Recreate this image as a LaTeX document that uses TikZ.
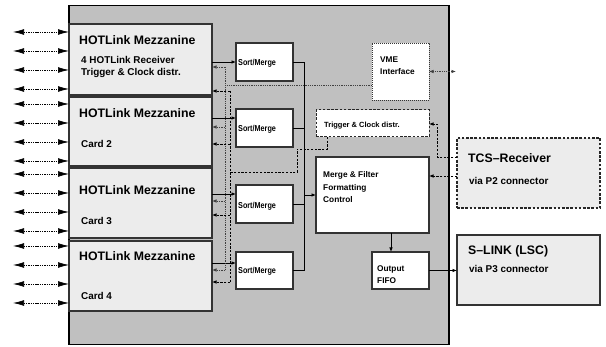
\documentclass[tikz,border=0pt]{standalone}
\usepackage{fontspec}
\setmainfont{Liberation Sans}
\newfontfamily\narrowsans{Liberation Sans}[FakeStretch=0.84]
\usetikzlibrary{arrows.meta,calc}
\definecolor{mainbg}{HTML}{C0C0C0}
\definecolor{cardbg}{HTML}{ECECEC}
\definecolor{edge}{HTML}{333333}
\begin{document}
\begin{tikzpicture}[x=1pt,y=-1pt,
  anybox/.style={inner sep=0pt, outer sep=0pt, anchor=north west},
  mainbox/.style={anybox, draw=black, line width=1.3pt, fill=mainbg},
  cardbox/.style={anybox, draw=edge, line width=1.1pt, fill=cardbg},
  wbox/.style={anybox, draw=edge, line width=1.1pt, fill=white},
  dotbox/.style={anybox, draw=black!80, line width=0.9pt, dash pattern=on 0.9pt off 1.1pt, fill=white},
  dashbox/.style={anybox, draw=black!85, line width=1pt, dash pattern=on 2.6pt off 1.6pt},
  lbl/.style={anchor=west, inner sep=0pt, text height=0.72em, text depth=0pt, font=\bfseries},
  ttl/.style={lbl, font=\fontsize{12.3}{14}\selectfont\bfseries},
  sub/.style={lbl, font=\fontsize{9.9}{12}\selectfont\bfseries},
  mid/.style={lbl, font=\fontsize{8.3}{10}\selectfont\bfseries},
  sml/.style={lbl, font=\fontsize{8.6}{10}\selectfont\narrowsans\bfseries},
  trg/.style={lbl, font=\fontsize{7.5}{9}\selectfont\bfseries},
  conn/.style={line width=0.8pt, black},
  arr/.style={-{Latex[length=4.5pt,width=3.6pt]}},
  vdot/.style={line width=0.8pt, black!75, dash pattern=on 0.8pt off 1pt},
  tdash/.style={line width=0.8pt, black, dash pattern=on 2.2pt off 1.5pt},
  extarr/.style={line width=0.7pt, black, dash pattern=on 1.4pt off 0.9pt,
     {Latex[length=11pt,width=5.8pt]}-{Latex[length=11pt,width=5.8pt]}},
  dblarr/.style={{Latex[length=4.5pt,width=3.6pt]}-{Latex[length=4.5pt,width=3.6pt]}}
]
\useasboundingbox (0,0) rectangle (606,347);

% main board
\node[mainbox, minimum width=380pt, minimum height=339pt] (main) at (69,5.5) {};

% mezzanine cards
\node[cardbox, minimum width=143pt, minimum height=71pt] (c1) at (69,24) {};
\node[cardbox, minimum width=143pt, minimum height=69pt] (c2) at (69,97) {};
\node[cardbox, minimum width=143pt, minimum height=70pt] (c3) at (69,168) {};
\node[cardbox, minimum width=143pt, minimum height=70pt] (c4) at (69,241) {};

% sort/merge boxes
\node[wbox, minimum width=57pt, minimum height=38pt] (s1) at (236,43) {};
\node[wbox, minimum width=57pt, minimum height=38pt] (s2) at (236,109) {};
\node[wbox, minimum width=57pt, minimum height=38pt] (s3) at (236,185) {};
\node[wbox, minimum width=57pt, minimum height=37pt] (s4) at (236,252) {};

% other internal boxes
\node[wbox, minimum width=113pt, minimum height=76pt] (merge) at (316,157) {};
\node[wbox, minimum width=57pt, minimum height=37pt] (fifo) at (372,252) {};
\node[dotbox, minimum width=57pt, minimum height=57pt] (vme) at (372,43) {};
\node[dashbox, fill=white, minimum width=113pt, minimum height=27pt] (trig) at (316,110) {};

% external boxes
\node[dashbox, fill=cardbg, line width=1.1pt, minimum width=143pt, minimum height=70pt] (tcs) at (457,138) {};
\node[cardbox, minimum width=143pt, minimum height=70pt] (slink) at (457,235) {};

% texts
\node[ttl] (t1) at (79,41) {HOTLink Mezzanine};
\node[sub] (t1a) at (81,60) {4 HOTLink Receiver};
\node[sub] (t1b) at (81,72) {Trigger \& Clock distr.};
\node[ttl] (t2) at (79,114) {HOTLink Mezzanine};
\node[sub] (t2a) at (81,144) {Card 2};
\node[ttl] (t3) at (79,191) {HOTLink Mezzanine};
\node[sub] (t3a) at (81,221) {Card 3};
\node[ttl] (t4) at (79,257) {HOTLink Mezzanine};
\node[sub] (t4a) at (81,296) {Card 4};

\node[sml] (st1) at (238,62) {Sort/Merge};
\node[sml] (st2) at (238,128) {Sort/Merge};
\node[sml] (st3) at (238,205) {Sort/Merge};
\node[sml] (st4) at (238,270) {Sort/Merge};

\node[mid] (vt1) at (380,59) {VME};
\node[mid] (vt2) at (380,71) {Interface};
\node[trg] (tt) at (324,123.5) {Trigger \& Clock distr.};
\node[mid] (mt1) at (323,174) {Merge \& Filter};
\node[mid] (mt2) at (323,187) {Formatting};
\node[mid] (mt3) at (323,199) {Control};
\node[mid] (ft1) at (377,268) {Output};
\node[mid] (ft2) at (377,280) {FIFO};

\node[ttl] (tcst) at (468,159) {TCS--Receiver};
\node[sub] (tcsv) at (469,181) {via P2 connector};
\node[ttl] (slt) at (468,251) {S--LINK (LSC)};
\node[sub] (slv) at (469,269) {via P3 connector};

% external left links
\foreach \yy [count=\i] in {32,51,70,89,104,123,142,161,174,193,212,231,246,265,284,303}{
  \coordinate (ext\i) at (13,\yy);
  \draw[extarr] (ext\i) -- (ext\i -| main.west);
}

% card -> sort/merge
\coordinate (in1) at (s1.west);
\coordinate (in2) at ($(s2.west)+(0,-10)$);
\coordinate (in3) at ($(s3.west)+(0,-10)$);
\coordinate (in4) at ($(s4.west)+(0,-7.5)$);
\draw[conn,arr] (c1.east |- in1) -- (in1);
\draw[conn,arr] (c2.east |- in2) -- (in2);
\draw[conn,arr] (c3.east |- in3) -- (in3);
\draw[conn,arr] (c4.east |- in4) -- (in4);

% sort/merge bus
\coordinate (busx) at (304,0);
\draw[conn] (s1.east) -- (s1.east -| busx) -- (s4.east -| busx) -- (s4.east);
\draw[conn] (s2.east) -- (s2.east -| busx);
\draw[conn] (s3.east) -- (s3.east -| busx);
\draw[conn,arr] (merge.west -| busx) -- (merge.west);

% merge -> fifo -> slink
\coordinate (mf) at ($(fifo.north west)+(19,0)$);
\draw[conn,arr] (merge.south -| mf) -- (mf);
\draw[conn,arr] (fifo.east) -- (fifo.east -| slink.west);

% VME dotted distribution
\coordinate (dotx) at (225,0);
\coordinate (vmeo) at ($(vme.west)+(0,13.5)$);
\coordinate (d1) at (212,67);
\coordinate (d2) at (212,127);
\coordinate (d3) at (212,201);
\coordinate (d4) at (212,270);
\draw[vdot] (vmeo) -- (vmeo -| dotx);
\draw[vdot] (d1 -| dotx) -- (d4 -| dotx);
\foreach \k in {1,2,3,4}{ \draw[vdot,arr] (d\k -| dotx) -- (d\k); }
\coordinate (vx) at (456,0);
\draw[vdot,dblarr] (vme.east) -- (vme.east -| vx);

% trigger dashed distribution
\coordinate (dashx) at (230,0);
\coordinate (tg) at ($(trig.south west)+(11,0)$);
\coordinate (k1) at (327,149);
\coordinate (k2) at (297,149);
\coordinate (k3) at (297,172);
\coordinate (e1) at (212,91);
\coordinate (e2) at (212,144);
\coordinate (e3) at (212,215);
\coordinate (e4) at (212,282);
\draw[tdash] (tg) -- (k1) -- (k2) -- (k3) -- (k3 -| dashx);
\draw[tdash] (e1 -| dashx) -- (e4 -| dashx);
\foreach \k in {1,2,3,4}{ \draw[tdash,arr] (e\k -| dashx) -- (e\k); }

% TCS receiver links
\coordinate (ta) at (457,157);
\coordinate (tc) at (437,124);
\coordinate (tb) at (457,176);
\draw[tdash,arr] (ta) -| (tc) -- (tc -| trig.east);
\draw[tdash,arr] (tb) -- (tb -| merge.east);
\end{tikzpicture}
\end{document}
